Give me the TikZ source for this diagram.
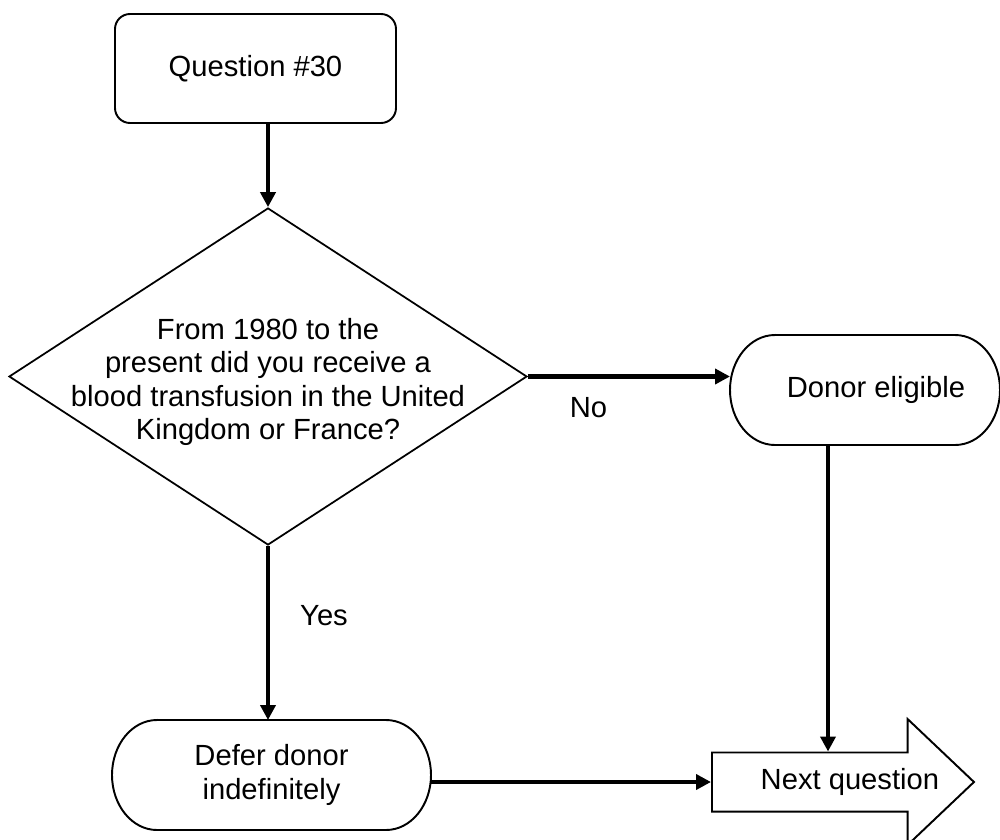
\documentclass[tikz,border=0pt]{standalone}
\usepackage{fontspec}
\setmainfont{Liberation Sans}
\usetikzlibrary{arrows.meta,shapes.geometric,shapes.arrows}

\begin{document}
\begin{tikzpicture}[
  font=\fontsize{16.6}{19}\selectfont,
  startbox/.style={draw,line width=1.1pt,rounded corners=0.3cm,minimum width=5.62cm,
    minimum height=2.18cm,align=center},
  decision/.style={draw,diamond,line width=1pt,minimum width=10.36cm,minimum height=6.74cm,
    inner sep=0pt},
  terminal/.style={align=center,minimum height=2.2cm,inner sep=0pt,outer sep=0pt,
    append after command={\pgfextra{
      \draw[line width=1.1pt]
        ([xshift=0.9cm]\tikzlastnode.north west) -- ([xshift=-0.9cm]\tikzlastnode.north east)
        arc[start angle=90,end angle=-90,x radius=0.9cm,y radius=1.1cm]
        -- ([xshift=0.9cm]\tikzlastnode.south west)
        arc[start angle=270,end angle=90,x radius=0.9cm,y radius=1.1cm] -- cycle;
    }}},
  nextarrow/.style={draw,single arrow,line width=1.1pt,minimum height=5.24cm,minimum width=2.52cm,
    single arrow head extend=0.33cm,single arrow tip angle=87,inner sep=0pt,anchor=tail},
  arrow/.style={-{Triangle[length=8.5pt,width=8.5pt]},line width=2.3pt},
  edgelabel/.style={inner sep=0pt}
]
\useasboundingbox (0,0) rectangle (20,-16.8);
\node[startbox] (q) at (5.11,-1.37) {Question \#30};
\node[decision] (d) at (5.36,-7.53) {};
\node[align=center] (dq) at ([yshift=-0.11cm]d.center) {From 1980 to the\\present did you receive a\\blood transfusion in the United\\Kingdom or France?};
\node[terminal,minimum width=5.4cm] (de) at (17.3,-7.8) {\hspace*{0.44cm}Donor eligible};
\node[terminal,minimum width=6.38cm] (df) at (5.43,-15.5) {Defer donor\\indefinitely};
\node[nextarrow] (nq) at (14.22,-15.64) {\hspace*{0.9cm}Next question};
\draw[arrow] (q.south -| d.north) -- (d.north);
\draw[arrow] (d.east) -- (d.east -| de.west) node[edgelabel,pos=0.3,yshift=-0.62cm] (no) {No};
\draw[arrow] (d.south) -- (d.south |- df.north) node[edgelabel,pos=0.4,xshift=1.12cm] (yes) {Yes};
\draw[arrow] (df.east |- nq.tail) -- (nq.tail);
\draw[arrow] ([xshift=-0.74cm]de.south) -- ([xshift=-0.74cm]de.south |- nq.north);
\end{tikzpicture}
\end{document}
